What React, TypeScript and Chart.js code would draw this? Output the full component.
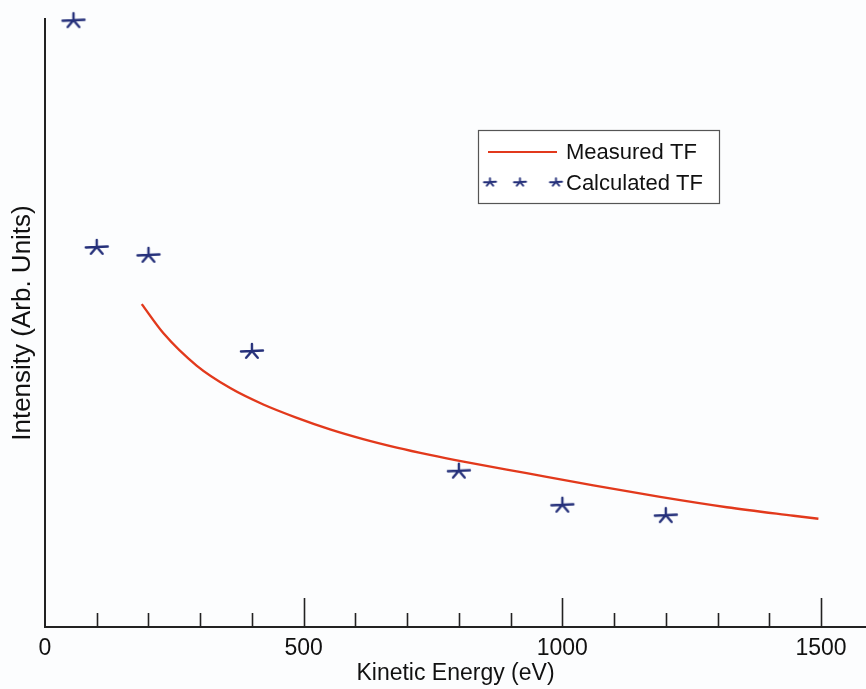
import React, { useEffect, useRef } from 'react';
import { Chart, registerables } from 'chart.js';

Chart.register(...registerables);

// ---- data ----
const calcEnergy = [55, 100, 200, 400, 800, 1000, 1200];
const calcIntensity = [0.998, 0.625, 0.612, 0.454, 0.257, 0.201, 0.184];

const measEnergy = [187, 229, 293, 358, 422, 487, 551, 615, 680, 744, 809, 931, 1060, 1189, 1318, 1447, 1495];
const measIntensity = [0.531, 0.483, 0.430, 0.393, 0.366, 0.344, 0.325, 0.309, 0.295, 0.283, 0.272, 0.253, 0.233, 0.214, 0.197, 0.183, 0.178];

const majorTicks = [0, 500, 1000, 1500];
const minorTicks = [100, 200, 300, 400, 500, 600, 700, 800, 900, 1000, 1100, 1200, 1300, 1400, 1500];

const seriesLabels = ['Measured TF', 'Calculated TF'];
const xTitle = 'Kinetic Energy (eV)';
const yTitle = 'Intensity (Arb. Units)';

const RED = '#e2391c';
const NAVY = '#25307a';
const FONT = "'Liberation Sans', Arial, Helvetica, sans-serif";

function makeStar(scale: number, lw: number): HTMLCanvasElement {
  const w = Math.ceil(26 * scale) + 2;
  const h = Math.ceil(18 * scale) + 2;
  const c = document.createElement('canvas');
  c.width = w;
  c.height = h;
  const ctx = c.getContext('2d')!;
  ctx.translate(w / 2, h / 2);
  ctx.strokeStyle = NAVY;
  ctx.lineWidth = lw;
  ctx.lineCap = 'round';
  const arms = [
    [-11, 0.5],
    [11, -0.5],
    [0, -7],
    [-5.8, 6.8],
    [5.8, 6.8],
  ];
  ctx.beginPath();
  for (const [ax, ay] of arms) {
    ctx.moveTo(0, 0);
    ctx.lineTo(ax * scale, ay * scale);
  }
  ctx.stroke();
  return c;
}

export default function App() {
  const ref = useRef<HTMLCanvasElement | null>(null);

  useEffect(() => {
    if (!ref.current) return;
    const star = makeStar(1, 2.4);
    const legendStar = makeStar(0.55, 1.9);

    const overlay = {
      id: 'overlay',
      beforeDraw(chart: any) {
        const { ctx, width, height } = chart;
        ctx.save();
        ctx.fillStyle = '#fcfdfe';
        ctx.fillRect(0, 0, width, height);
        ctx.restore();
      },
      afterDraw(chart: any) {
        const { ctx, chartArea } = chart;
        const x = chart.scales.x;
        ctx.save();
        // inward tick marks
        ctx.strokeStyle = '#222';
        ctx.lineWidth = 1.6;
        ctx.beginPath();
        for (const v of minorTicks) {
          const px = Math.round(x.getPixelForValue(v)) + 0.5;
          const len = majorTicks.includes(v) ? 29 : 14;
          ctx.moveTo(px, chartArea.bottom);
          ctx.lineTo(px, chartArea.bottom - len);
        }
        ctx.stroke();

        // legend box
        const bx = 478.5, by = 130.5, bw = 241, bh = 73;
        ctx.fillStyle = '#ffffff';
        ctx.fillRect(bx, by, bw, bh);
        ctx.strokeStyle = '#555';
        ctx.lineWidth = 1.2;
        ctx.strokeRect(bx, by, bw, bh);

        ctx.strokeStyle = RED;
        ctx.lineWidth = 2;
        ctx.beginPath();
        ctx.moveTo(488, 152);
        ctx.lineTo(557, 152);
        ctx.stroke();

        for (const sx of [490, 520, 556]) {
          ctx.drawImage(legendStar, sx - legendStar.width / 2, 182 - legendStar.height / 2);
        }

        ctx.fillStyle = '#111';
        ctx.font = `22px ${FONT}`;
        ctx.textBaseline = 'middle';
        ctx.textAlign = 'left';
        ctx.fillText(seriesLabels[0], 566, 153);
        ctx.fillText(seriesLabels[1], 566, 184);
        ctx.restore();
      },
    };

    const chart = new Chart(ref.current, {
      type: 'scatter',
      data: {
        datasets: [
          {
            label: seriesLabels[0],
            data: measEnergy.map((e, i) => ({ x: e, y: measIntensity[i] })),
            showLine: true,
            borderColor: RED,
            backgroundColor: RED,
            borderWidth: 2.4,
            pointRadius: 0,
            cubicInterpolationMode: 'monotone',
            clip: false,
          } as any,
          {
            label: seriesLabels[1],
            data: calcEnergy.map((e, i) => ({ x: e, y: calcIntensity[i] })),
            showLine: false,
            pointStyle: star as any,
            pointRadius: 11,
            borderColor: NAVY,
            backgroundColor: NAVY,
            clip: false,
          } as any,
        ],
      },
      options: {
        animation: false,
        responsive: false,
        devicePixelRatio: 1,
        layout: { autoPadding: false, padding: { top: 19, right: 0, left: 0, bottom: 0 } },
        plugins: {
          legend: { display: false },
          tooltip: { enabled: false },
        },
        scales: {
          x: {
            type: 'linear',
            min: 0,
            max: 1587,
            grid: { display: false },
            border: { display: true, color: '#222', width: 2 },
            ticks: {
              padding: 0,
              color: '#111',
              font: { family: FONT, size: 23 },
              maxRotation: 0,
              minRotation: 0,
              autoSkip: false,
              callback: (v: any) => String(v),
            },
            afterBuildTicks: (scale: any) => {
              scale.ticks = majorTicks.map((v) => ({ value: v }));
            },
            afterFit: (scale: any) => {
              scale.height = 62;
              scale.paddingRight = 0;
              scale.paddingLeft = 0;
            },
            title: {
              display: true,
              text: xTitle,
              color: '#111',
              font: { family: FONT, size: 23 },
              padding: { top: 0, bottom: 2 },
            },
          },
          y: {
            type: 'linear',
            min: 0,
            max: 1,
            grid: { display: false },
            border: { display: true, color: '#222', width: 2 },
            ticks: { display: false },
            afterFit: (scale: any) => {
              scale.width = 45;
              scale.paddingTop = 0;
              scale.paddingBottom = 0;
            },
            title: {
              display: true,
              text: yTitle,
              color: '#111',
              font: { family: FONT, size: 26 },
              padding: { top: 7, bottom: 0 },
            },
          },
        },
      } as any,
      plugins: [overlay],
    });

    return () => chart.destroy();
  }, []);

  return (
    <div style={{ position: 'absolute', left: 0, top: 0, width: 866, height: 689, overflow: 'hidden' }}>
      <canvas ref={ref} width={866} height={689} style={{ display: 'block' }} />
    </div>
  );
}
